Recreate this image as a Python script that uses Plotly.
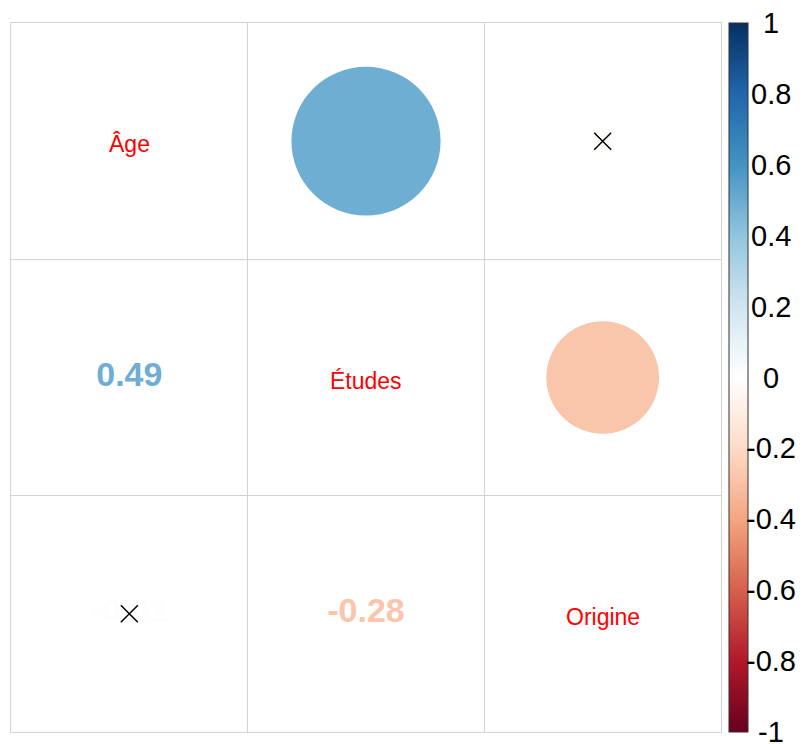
import math
import plotly.graph_objects as go

variables = ["Âge", "Études", "Origine"]
corr = [
    [1.00, 0.49, -0.01],
    [0.49, 1.00, -0.28],
    [-0.01, -0.28, 1.00],
]
insignificant = [(0, 2)]  # pairs (i, j) marked with a cross
cbar_ticks = [-1, -0.8, -0.6, -0.4, -0.2, 0, 0.2, 0.4, 0.6, 0.8, 1]
cbar_labels = ["-1", "-0.8", "-0.6", "-0.4", "-0.2", "0", "0.2", "0.4", "0.6", "0.8", "1"]

palette = ["#67001F", "#B2182B", "#D6604D", "#F4A582", "#FDDBC7", "#FFFFFF",
           "#D1E5F0", "#92C5DE", "#4393C3", "#2166AC", "#053061"]
n = len(palette) - 1
colorscale = [[k / n, c] for k, c in enumerate(palette)]
CMIN, CMAX = -1, 1


def hex2rgb(h):
    h = h.lstrip("#")
    return tuple(int(h[k:k + 2], 16) for k in (0, 2, 4))


def corr_color(r):
    t = (r + 1) / 2 * n
    k = min(int(math.floor(t)), n - 1)
    f = t - k
    a, b = hex2rgb(palette[k]), hex2rgb(palette[k + 1])
    c = [round(a[m] + (b[m] - a[m]) * f) for m in range(3)]
    return "rgb(%d,%d,%d)" % tuple(c)


FONT = "Liberation Sans, Arial, sans-serif"
W, H = 805, 744
ML, MR, MT, MB = 11, 84, 23, 12
fig = go.Figure()
shapes = []
annotations = []
N = len(variables)

# upper triangle: circles
for i in range(N):
    for j in range(N):
        if j > i:
            r = corr[i][j]
            rad = math.sqrt(abs(r)) * 0.45
            cx, cy = j + 1, i + 1
            shapes.append(dict(type="circle", xref="x", yref="y",
                               x0=cx - rad, x1=cx + rad, y0=cy - rad, y1=cy + rad,
                               fillcolor=corr_color(r), line=dict(width=0), layer="below"))

# lower triangle: numbers (scatter text so crosses can sit on top)
tx, ty, tt, tc = [], [], [], []
for i in range(N):
    for j in range(N):
        if j < i:
            r = corr[i][j]
            tx.append(j + 1)
            ty.append(i + 1)
            tt.append("<b>%.2f</b>" % r)
            tc.append(corr_color(r))
fig.add_trace(go.Scatter(x=tx, y=ty, text=tt, mode="text",
                         textfont=dict(size=34, color=tc, family=FONT),
                         hoverinfo="skip", showlegend=False))

# diagonal: labels
for k in range(N):
    annotations.append(dict(x=k + 1, y=k + 1, xref="x", yref="y", showarrow=False,
                            text=variables[k], yshift=-3,
                            font=dict(size=23, color="red", family=FONT)))

# crosses for insignificant pairs (both triangles)
cx_, cy_ = [], []
for (i, j) in insignificant:
    cx_ += [j + 1, i + 1]
    cy_ += [i + 1, j + 1]

# colorbar (labels drawn as annotations to mimic corrplot placement)
fig.add_trace(go.Scatter(x=[None], y=[None], mode="markers",
                         marker=dict(color=[0], colorscale=colorscale, cmin=CMIN, cmax=CMAX,
                                     showscale=True,
                                     colorbar=dict(x=1 + 8 / (W - ML - MR), xanchor="left",
                                                   y=0.5, yanchor="middle",
                                                   len=1, lenmode="fraction",
                                                   thickness=19, thicknessmode="pixels",
                                                   xpad=0, ypad=0,
                                                   outlinecolor="#333333", outlinewidth=1,
                                                   tickvals=cbar_ticks, showticklabels=False,
                                                   ticks="")),
                         hoverinfo="skip", showlegend=False))

fig.add_trace(go.Scatter(x=cx_, y=cy_, mode="markers",
                         marker=dict(symbol="x-thin", size=17,
                                     line=dict(width=1.5, color="black")),
                         hoverinfo="skip", showlegend=False))

label_x = 1 + 50 / (W - ML - MR)
annotations += [dict(x=label_x, y=(v - CMIN) / (CMAX - CMIN), xref="paper", yref="paper",
                     text=lab, showarrow=False, xanchor="center", yanchor="middle",
                     font=dict(size=29, color="black", family=FONT))
                for v, lab in zip(cbar_ticks, cbar_labels)]

grid = "#D3D3D3"
fig.update_layout(
    width=W, height=H,
    margin=dict(l=ML, r=MR, t=MT, b=MB, autoexpand=False),
    plot_bgcolor="white", paper_bgcolor="white",
    shapes=shapes, annotations=annotations,
    xaxis=dict(range=[0.5, N + 0.5], tickvals=[k + 1.5 for k in range(N - 1)], showticklabels=False,
               showgrid=True, gridcolor=grid, gridwidth=1, zeroline=False,
               showline=True, mirror=True, linecolor=grid, linewidth=1, ticks=""),
    yaxis=dict(range=[N + 0.5, 0.5], tickvals=[k + 1.5 for k in range(N - 1)], showticklabels=False,
               showgrid=True, gridcolor=grid, gridwidth=1, zeroline=False,
               showline=True, mirror=True, linecolor=grid, linewidth=1, ticks=""),
)
fig.write_html("out.html", config={"displayModeBar": False},
               post_script="document.body.style.margin='0';document.body.style.overflow='hidden';")
